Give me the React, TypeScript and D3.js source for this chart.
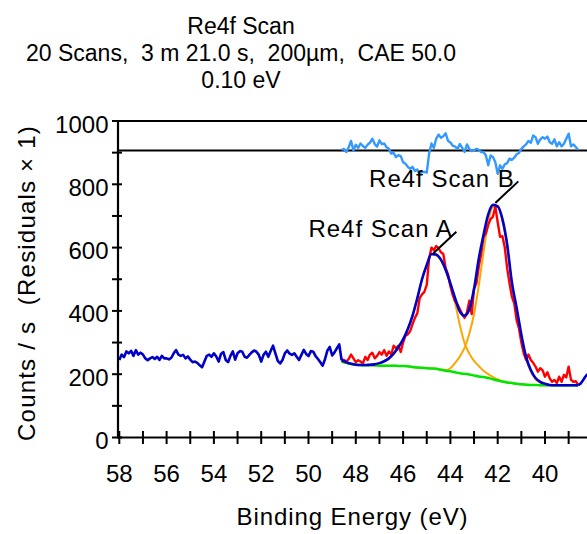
import React from 'react';
import * as d3 from 'd3';

// ---------- text ----------
const TITLE_LINES = ['Re4f Scan', '20 Scans,  3 m 21.0 s,  200µm,  CAE 50.0', '0.10 eV'];
const X_TITLE = 'Binding Energy (eV)';
const Y_TITLE = 'Counts / s  (Residuals × 1)';
const X_TICK_LABELS = [58, 56, 54, 52, 50, 48, 46, 44, 42, 40];
const Y_TICK_LABELS = [0, 200, 400, 600, 800, 1000];
const X_MINOR_TICKS = [58, 57, 56, 55, 54, 53, 52, 51, 50, 49, 48, 47, 46, 45, 44, 43, 42, 41, 40, 39];
const Y_MINOR_TICKS = [0, 100, 200, 300, 400, 500, 600, 700, 800, 900, 1000];

// ---------- data ----------
const STEP = 0.1; // eV
const SURVEY_START = 58.0;
// counts/s outside the fit region, 58.0 -> 48.7 eV
const surveyCounts = [
  245, 262, 254, 272, 266, 274, 258, 276, 262, 268,
  262, 250, 244, 250, 254, 248, 255, 245, 258, 250,
  250, 247, 252, 266, 276, 262, 258, 261, 250, 256,
  246, 238, 240, 236, 228, 222, 240, 258, 262, 255,
  266, 256, 240, 264, 270, 245, 238, 258, 272, 246,
  266, 273, 271, 255, 252, 261, 269, 275, 271, 261,
  240, 261, 271, 255, 273, 290, 266, 242, 234, 245,
  266, 275, 265, 261, 266, 255, 245, 261, 277, 264,
  257, 273, 271, 257, 248, 238, 227, 248, 275, 286,
  259, 269, 282, 294,
];

const FIT_START = 48.6;
// raw counts in the fit region, 48.6 -> 38.6 eV
const rawCounts = [
  246, 245, 240, 248, 262, 250, 238, 244, 240, 234,
  255, 245, 262, 268, 250, 258, 270, 262, 276, 258,
  272, 262, 290, 282, 290, 270, 300, 322, 326, 336,
  358, 378, 392, 440, 452, 460, 482, 565, 600, 592,
  605, 598, 585, 580, 535, 515, 478, 450, 430, 420,
  405, 390, 378, 395, 432, 390, 470, 487, 540, 580,
  634, 645, 672, 690, 698, 729, 680, 634, 636, 600,
  535, 487, 445, 424, 371, 345, 300, 266, 245, 262,
  245, 236, 224, 208, 219, 212, 192, 206, 187, 176,
  182, 172, 192, 176, 198, 190, 224, 182, 176, 178,
  166,
];
// residuals (x1), 48.6 -> 38.6 eV
const residuals = [
  2, 5, -5, 10, 30, 0, 18, 8, 22, 14,
  8, 18, 25, 37, 20, 12, 32, 20, 22, 10,
  5, -10, -8, -21, -15, -18, -37, -42, -52, -58,
  -52, -65, -60, -75, -68, -68, -70, -10, 22, 8,
  37, 50, 40, 45, 54, 30, 25, 15, 12, 5,
  20, 8, -5, 19, 5, -2, 0, 5, 2, -5,
  -5, -16, -47, -16, -21, -37, -74, -47, -58, -44,
  -40, -26, -30, -23, -12, -8, 5, 13, 19, 30,
  24, 47, 42, 21, 35, 42, 37, 44, 26, 21,
  35, 13, 26, 13, 21, 37, 53, 13, 19, 11,
  2,
];
const RESIDUAL_ZERO = 907;

const SMOOTH_STEP = 0.2; // eV, fitted curves 48.6 -> 38.6
const envelope = [
  244, 238, 233, 230, 229, 229, 230, 231, 235, 241,
  250, 265, 285, 310, 343, 385, 440, 500, 545, 580,
  578, 562, 530, 487, 440, 398, 385, 405, 470, 565,
  640, 705, 735, 730, 690, 610, 490, 410, 325, 255,
  213, 188, 176, 170, 166, 165, 165, 165, 165, 165,
  165,
];
const background = [
  240, 236, 232, 230, 229, 228, 228, 228, 227, 227,
  227, 227, 226, 226, 225, 223, 221, 220, 219, 218,
  217, 214, 211, 209, 206, 203, 201, 199, 196, 193,
  191, 188, 184, 180, 177, 174, 172, 170, 168, 167,
  166, 166, 165, 165, 165, 165, 165, 165, 165, 165,
  165,
];
const componentA = [
  240, 236, 232, 230, 229, 229, 230, 231, 235, 241,
  250, 265, 285, 310, 343, 385, 440, 500, 545, 578,
  575, 560, 527, 482, 425, 355, 298, 265, 242, 226,
  211, 200, 191, 184, 177, 174, 172, 170, 168, 167,
  166, 166, 165, 165, 165, 165, 165, 165, 165, 165,
  165,
];
const componentB = [
  240, 236, 232, 230, 229, 228, 228, 228, 227, 227,
  227, 227, 226, 226, 225, 223, 221, 220, 219, 218,
  217, 215, 213, 219, 236, 256, 284, 328, 390, 480,
  585, 680, 728, 728, 685, 605, 482, 400, 318, 250,
  208, 184, 173, 168, 166, 165, 165, 165, 165, 165,
  165,
];
const tailEnergies = [38.5, 38.4, 38.3, 38.2];
const tailCounts = [170, 180, 192, 200];

const peakLabels = ['Re4f Scan A', 'Re4f Scan B'];
const peakEnergies = [44.72, 42.1];
const peakCounts = [582, 741];

// ---------- layout ----------
const W = 587;
const H = 534;
const FONT = "'Liberation Sans', Arial, Helvetica, sans-serif";

type P = [number, number];

export default function App() {
  const x = d3.scaleLinear().domain([58, 38.224]).range([119.3, 587]);
  const y = d3.scaleLinear().domain([0, 1000]).range([437.5, 121]);
  const axisX = 118;

  const surveyPts: P[] = surveyCounts.map((c, i) => [SURVEY_START - i * STEP, c]);
  const rawPts: P[] = rawCounts.map((c, i) => [FIT_START - i * STEP, c]);
  const resPts: P[] = residuals.map((r, i) => [FIT_START - i * STEP, RESIDUAL_ZERO + r]);
  const sm = (arr: number[]): P[] => arr.map((c, i) => [FIT_START - i * SMOOTH_STEP, c]);
  const envPts = sm(envelope);
  const bgPts = sm(background);
  const aPts = sm(componentA);
  const bPts = sm(componentB);
  const tailPts: P[] = tailEnergies.map((e, i) => [e, tailCounts[i]]);

  const lin = d3.line<P>().x(d => x(d[0])).y(d => y(d[1]));
  const smooth = d3.line<P>().x(d => x(d[0])).y(d => y(d[1])).curve(d3.curveMonotoneX);

  const blue = '#0000c8';
  const red = '#ff0000';
  const green = '#00e600';
  const orange = '#ffa500';
  const resBlue = '#3399ff';

  return (
    <svg
      width={W}
      height={H}
      style={{ position: 'absolute', left: 0, top: 0, background: '#fff' }}
      fontFamily={FONT}
    >
      <rect x={0} y={0} width={W} height={H} fill="#fff" />
      {/* title */}
      {TITLE_LINES.map((t, i) => (
        <text key={i} x={241} y={33.5 + i * 27.2} textAnchor="middle" fontSize={23} fill="#000" style={{ whiteSpace: 'pre' }}>
          {t}
        </text>
      ))}

      {/* frame lines */}
      <line x1={axisX} x2={W} y1={y(1000)} y2={y(1000)} stroke="#000" strokeWidth={2.2} />
      <line x1={axisX} x2={W} y1={y(RESIDUAL_ZERO)} y2={y(RESIDUAL_ZERO)} stroke="#000" strokeWidth={2} />

      {/* residuals */}
      <path d={lin(resPts) || ''} fill="none" stroke={resBlue} strokeWidth={2.4} strokeLinejoin="round" />

      {/* components & background */}
      <path d={smooth(aPts) || ''} fill="none" stroke={orange} strokeWidth={2} />
      <path d={smooth(bPts) || ''} fill="none" stroke={orange} strokeWidth={2} />
      <path d={smooth(bgPts) || ''} fill="none" stroke={green} strokeWidth={2.5} />

      {/* raw data */}
      <path d={lin(rawPts) || ''} fill="none" stroke={red} strokeWidth={2.4} strokeLinejoin="round" />

      {/* blue: survey data, envelope, tail */}
      <path d={lin([...surveyPts, envPts[0]]) || ''} fill="none" stroke={blue} strokeWidth={2.6} strokeLinejoin="round" />
      <path d={smooth(envPts) || ''} fill="none" stroke={blue} strokeWidth={2.6} />
      <path d={lin([envPts[envPts.length - 1], ...tailPts]) || ''} fill="none" stroke={blue} strokeWidth={2.6} />

      {/* peak annotations */}
      {peakLabels.map((lab, i) => {
        const px = x(peakEnergies[i]);
        const py = y(peakCounts[i]);
        const ex = px + 23;
        const ey = py - 21.6;
        return (
          <g key={lab}>
            <line x1={px} y1={py} x2={ex} y2={ey} stroke="#000" strokeWidth={2} />
            <text x={ex - 3.5} y={ey + 5.8} textAnchor="end" fontSize={24} letterSpacing={1} fill="#000">
              {lab}
            </text>
          </g>
        );
      })}

      {/* axes */}
      <line x1={axisX} x2={axisX} y1={y(1000) - 1} y2={y(0) + 1} stroke="#000" strokeWidth={2.2} />
      <line x1={axisX} x2={W} y1={y(0)} y2={y(0)} stroke="#000" strokeWidth={2.2} />
      {X_MINOR_TICKS.map(v => (
        <line key={'xt' + v} x1={x(v)} x2={x(v)} y1={y(0) - 6.5} y2={y(0) + 6.5} stroke="#000" strokeWidth={2} />
      ))}
      {Y_MINOR_TICKS.map(v => (
        <line key={'yt' + v} x1={axisX - 6} x2={axisX + 4} y1={y(v)} y2={y(v)} stroke="#000" strokeWidth={2} />
      ))}
      {X_TICK_LABELS.map(v => (
        <text key={'xl' + v} x={x(v)} y={482} textAnchor="middle" fontSize={24} fill="#000">
          {v}
        </text>
      ))}
      {Y_TICK_LABELS.map(v => (
        <text key={'yl' + v} x={108.5} y={y(v) + 11.5} textAnchor="end" fontSize={24} fill="#000">
          {v}
        </text>
      ))}

      {/* axis titles */}
      <text x={352.5} y={525} textAnchor="middle" fontSize={24} letterSpacing={0.9} fill="#000">
        {X_TITLE}
      </text>
      <text
        transform={`translate(34.5, 283) rotate(-90)`}
        textAnchor="middle"
        fontSize={24}
        letterSpacing={1.2}
        fill="#000"
        style={{ whiteSpace: 'pre' }}
      >
        {Y_TITLE}
      </text>
    </svg>
  );
}
